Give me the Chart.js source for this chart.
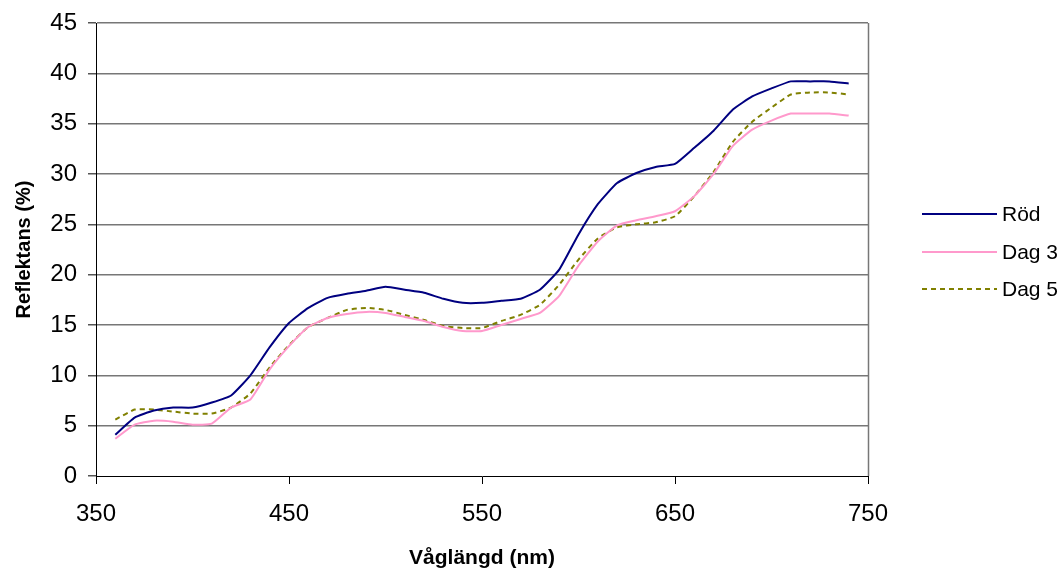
<!DOCTYPE html>
<html lang="sv">
<head>
  <meta charset="UTF-8" />
  <title>Reflektans</title>
  <script src="https://cdn.jsdelivr.net/npm/chart.js"></script>
  <style>
    html, body { margin: 0; padding: 0; background: #fff; }
    #wrap { width: 1061px; height: 571px; }
  </style>
</head>
<body>
  <div id="wrap"><canvas id="chart" width="1061" height="571"></canvas></div>
  <script>
    // wavelengths (nm), one reading every 10 nm
    const wavelengths = [360, 370, 380, 390, 400, 410, 420, 430, 440, 450,
      460, 470, 480, 490, 500, 510, 520, 530, 540, 550,
      560, 570, 580, 590, 600, 610, 620, 630, 640, 650,
      660, 670, 680, 690, 700, 710, 720, 730, 740];

    const rod = [4.1, 5.8, 6.5, 6.8, 6.8, 7.3, 8.0, 10.0, 12.8, 15.2,
      16.7, 17.7, 18.1, 18.4, 18.8, 18.5, 18.2, 17.6, 17.2, 17.2,
      17.4, 17.6, 18.5, 20.5, 24.0, 27.0, 29.1, 30.1, 30.7, 31.0,
      32.6, 34.3, 36.4, 37.7, 38.5, 39.2, 39.2, 39.2, 39.0];

    const dag3 = [3.7, 5.1, 5.5, 5.4, 5.1, 5.2, 6.8, 7.6, 10.6, 12.9,
      14.8, 15.7, 16.1, 16.3, 16.2, 15.8, 15.4, 14.8, 14.4, 14.4,
      15.0, 15.6, 16.2, 17.9, 20.9, 23.3, 24.9, 25.4, 25.8, 26.3,
      27.8, 30.0, 32.8, 34.4, 35.3, 36.0, 36.0, 36.0, 35.8];

    const dag5 = [5.6, 6.6, 6.6, 6.4, 6.2, 6.2, 6.8, 8.2, 10.8, 13.0,
      14.8, 15.7, 16.5, 16.7, 16.5, 16.0, 15.5, 14.9, 14.7, 14.7,
      15.4, 16.0, 17.0, 19.0, 21.5, 23.6, 24.7, 25.0, 25.2, 25.8,
      27.8, 30.2, 33.2, 35.2, 36.6, 37.9, 38.1, 38.1, 37.9];

    const seriesNames = ['Röd', 'Dag 3', 'Dag 5'];

    const FONT = "'Liberation Sans', Arial, sans-serif";

    function pts(vals) {
      return wavelengths.map((w, i) => ({ x: w, y: vals[i] }));
    }

    // legend drawn by hand so the dashed line shows like the original
    const sideLegend = {
      id: 'sideLegend',
      afterDraw(chart) {
        const ctx = chart.ctx;
        const rows = [214, 252, 289];
        ctx.save();
        chart.data.datasets.forEach((ds, i) => {
          const y = rows[i];
          ctx.beginPath();
          ctx.strokeStyle = ds.borderColor;
          ctx.lineWidth = 2;
          ctx.setLineDash(ds.borderDash || []);
          ctx.moveTo(922, y);
          ctx.lineTo(997, y);
          ctx.stroke();
          ctx.setLineDash([]);
          ctx.fillStyle = '#000';
          ctx.font = '21px ' + FONT;
          ctx.textBaseline = 'middle';
          ctx.fillText(ds.label, 1002, y + 1);
        });
        ctx.restore();
      }
    };

    // grey frame line on the right side of the plot area
    const rightEdge = {
      id: 'rightEdge',
      beforeDatasetsDraw(chart) {
        const a = chart.chartArea;
        const ctx = chart.ctx;
        ctx.save();
        ctx.strokeStyle = '#777';
        ctx.lineWidth = 1.5;
        ctx.beginPath();
        ctx.moveTo(Math.round(a.right) + 0.5, a.top);
        ctx.lineTo(Math.round(a.right) + 0.5, a.bottom);
        ctx.stroke();
        ctx.restore();
      }
    };

    new Chart(document.getElementById('chart'), {
      type: 'line',
      data: {
        datasets: [
          { label: seriesNames[0], data: pts(rod), borderColor: '#000080', borderWidth: 2 },
          { label: seriesNames[1], data: pts(dag3), borderColor: '#ff99cc', borderWidth: 2 },
          { label: seriesNames[2], data: pts(dag5), borderColor: '#808000', borderWidth: 2, borderDash: [5, 4] }
        ]
      },
      options: {
        responsive: false,
        animation: false,
        layout: { padding: { left: 0, right: 193, top: 23, bottom: 0 } },
        elements: { point: { radius: 0 }, line: { tension: 0.15, fill: false } },
        plugins: { legend: { display: false }, tooltip: { enabled: false } },
        scales: {
          x: {
            type: 'linear',
            min: 350, max: 750,
            afterFit: s => { s.height = 95; },
            ticks: { stepSize: 100, color: '#000', font: { family: FONT, size: 24 }, padding: 16, maxRotation: 0 },
            grid: { drawOnChartArea: false, drawTicks: true, tickLength: 8, tickColor: '#000' },
            border: { color: '#000', width: 1 },
            title: { display: true, text: 'Våglängd (nm)', color: '#000',
                     font: { family: FONT, size: 21, weight: 'bold' }, padding: { top: 0, bottom: 0 } }
          },
          y: {
            min: 0, max: 45,
            afterFit: s => { s.width = 96; s.paddingTop = 0; s.paddingBottom = 0; },
            ticks: { stepSize: 5, color: '#000', font: { family: FONT, size: 24 }, padding: 11 },
            grid: {
              color: c => (c.tick && c.tick.value === 0) ? 'rgba(0,0,0,0)' : '#777',
              lineWidth: 1.5, tickLength: 8, tickColor: '#555'
            },
            border: { color: '#000', width: 1 },
            title: { display: true, text: 'Reflektans (%)', color: '#000',
                     font: { family: FONT, size: 20, weight: 'bold' }, padding: { top: 12, bottom: 0 } }
          }
        }
      },
      plugins: [sideLegend, rightEdge]
    });
  </script>
</body>
</html>
